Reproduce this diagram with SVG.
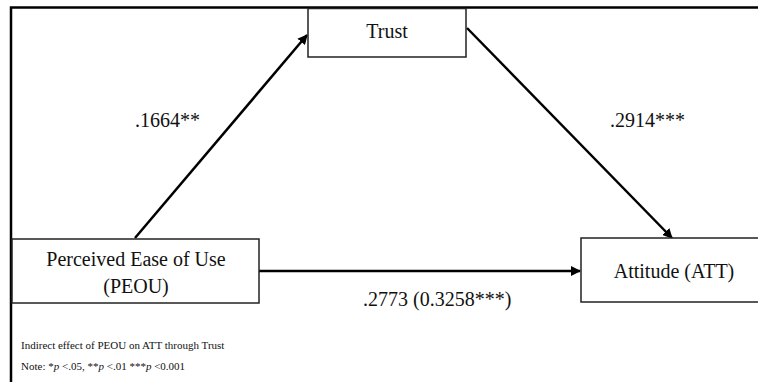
<svg xmlns="http://www.w3.org/2000/svg" width="758" height="382" viewBox="0 0 758 382">
<defs>
<style>
.box{fill:#fff;stroke:#222;stroke-width:1.5}
.lbl{font-family:"Liberation Serif","Times New Roman",serif;font-size:20px;fill:#111}
.note{font-family:"Liberation Serif","Times New Roman",serif;font-size:11px;fill:#111}
.edge{stroke:#000;stroke-width:2.5;fill:none}
</style>
<marker id="arr" viewBox="0 0 10 10" refX="9" refY="5" markerWidth="4" markerHeight="4" orient="auto" markerUnits="strokeWidth">
<path d="M0,0 L10,5 L0,10 z" fill="#000"/>
</marker>
</defs>
<rect width="758" height="382" fill="#fff"/>
<g id="frame">
<path d="M11,382 V7.5 H758" fill="none" stroke="#000" stroke-width="2.5"/>
</g>
<g id="connectors">
<line class="edge" x1="135" y1="238" x2="307" y2="35" marker-end="url(#arr)"/>
<line class="edge" x1="467" y1="28" x2="672" y2="238" marker-end="url(#arr)"/>
<line class="edge" x1="259" y1="271" x2="580" y2="271" marker-end="url(#arr)"/>
</g>
<g id="trust">
<rect class="box" x="308" y="8.5" width="158" height="48.5"/>
<text class="lbl" x="387" y="38" text-anchor="middle">Trust</text>
</g>
<g id="peou">
<rect class="box" x="12" y="239" width="247" height="64"/>
<text class="lbl" x="136" y="266" text-anchor="middle">Perceived Ease of Use</text>
<text class="lbl" x="136" y="293" text-anchor="middle">(PEOU)</text>
</g>
<g id="att">
<rect class="box" x="581" y="238" width="190" height="64"/>
<text class="lbl" x="674" y="278" text-anchor="middle">Attitude (ATT)</text>
</g>
<g id="labels">
<text class="lbl" x="135" y="127">.1664**</text>
<text class="lbl" x="610" y="127">.2914***</text>
<text class="lbl" x="363" y="306">.2773 (0.3258***)</text>
</g>
<g id="notes">
<text class="note" x="21" y="349">Indirect effect of PEOU on ATT through Trust</text>
<text class="note" x="21" y="370">Note: *<tspan font-style="italic">p</tspan> &lt;.05, **<tspan font-style="italic">p</tspan> &lt;.01 ***<tspan font-style="italic">p</tspan> &lt;0.001</text>
</g>
</svg>
